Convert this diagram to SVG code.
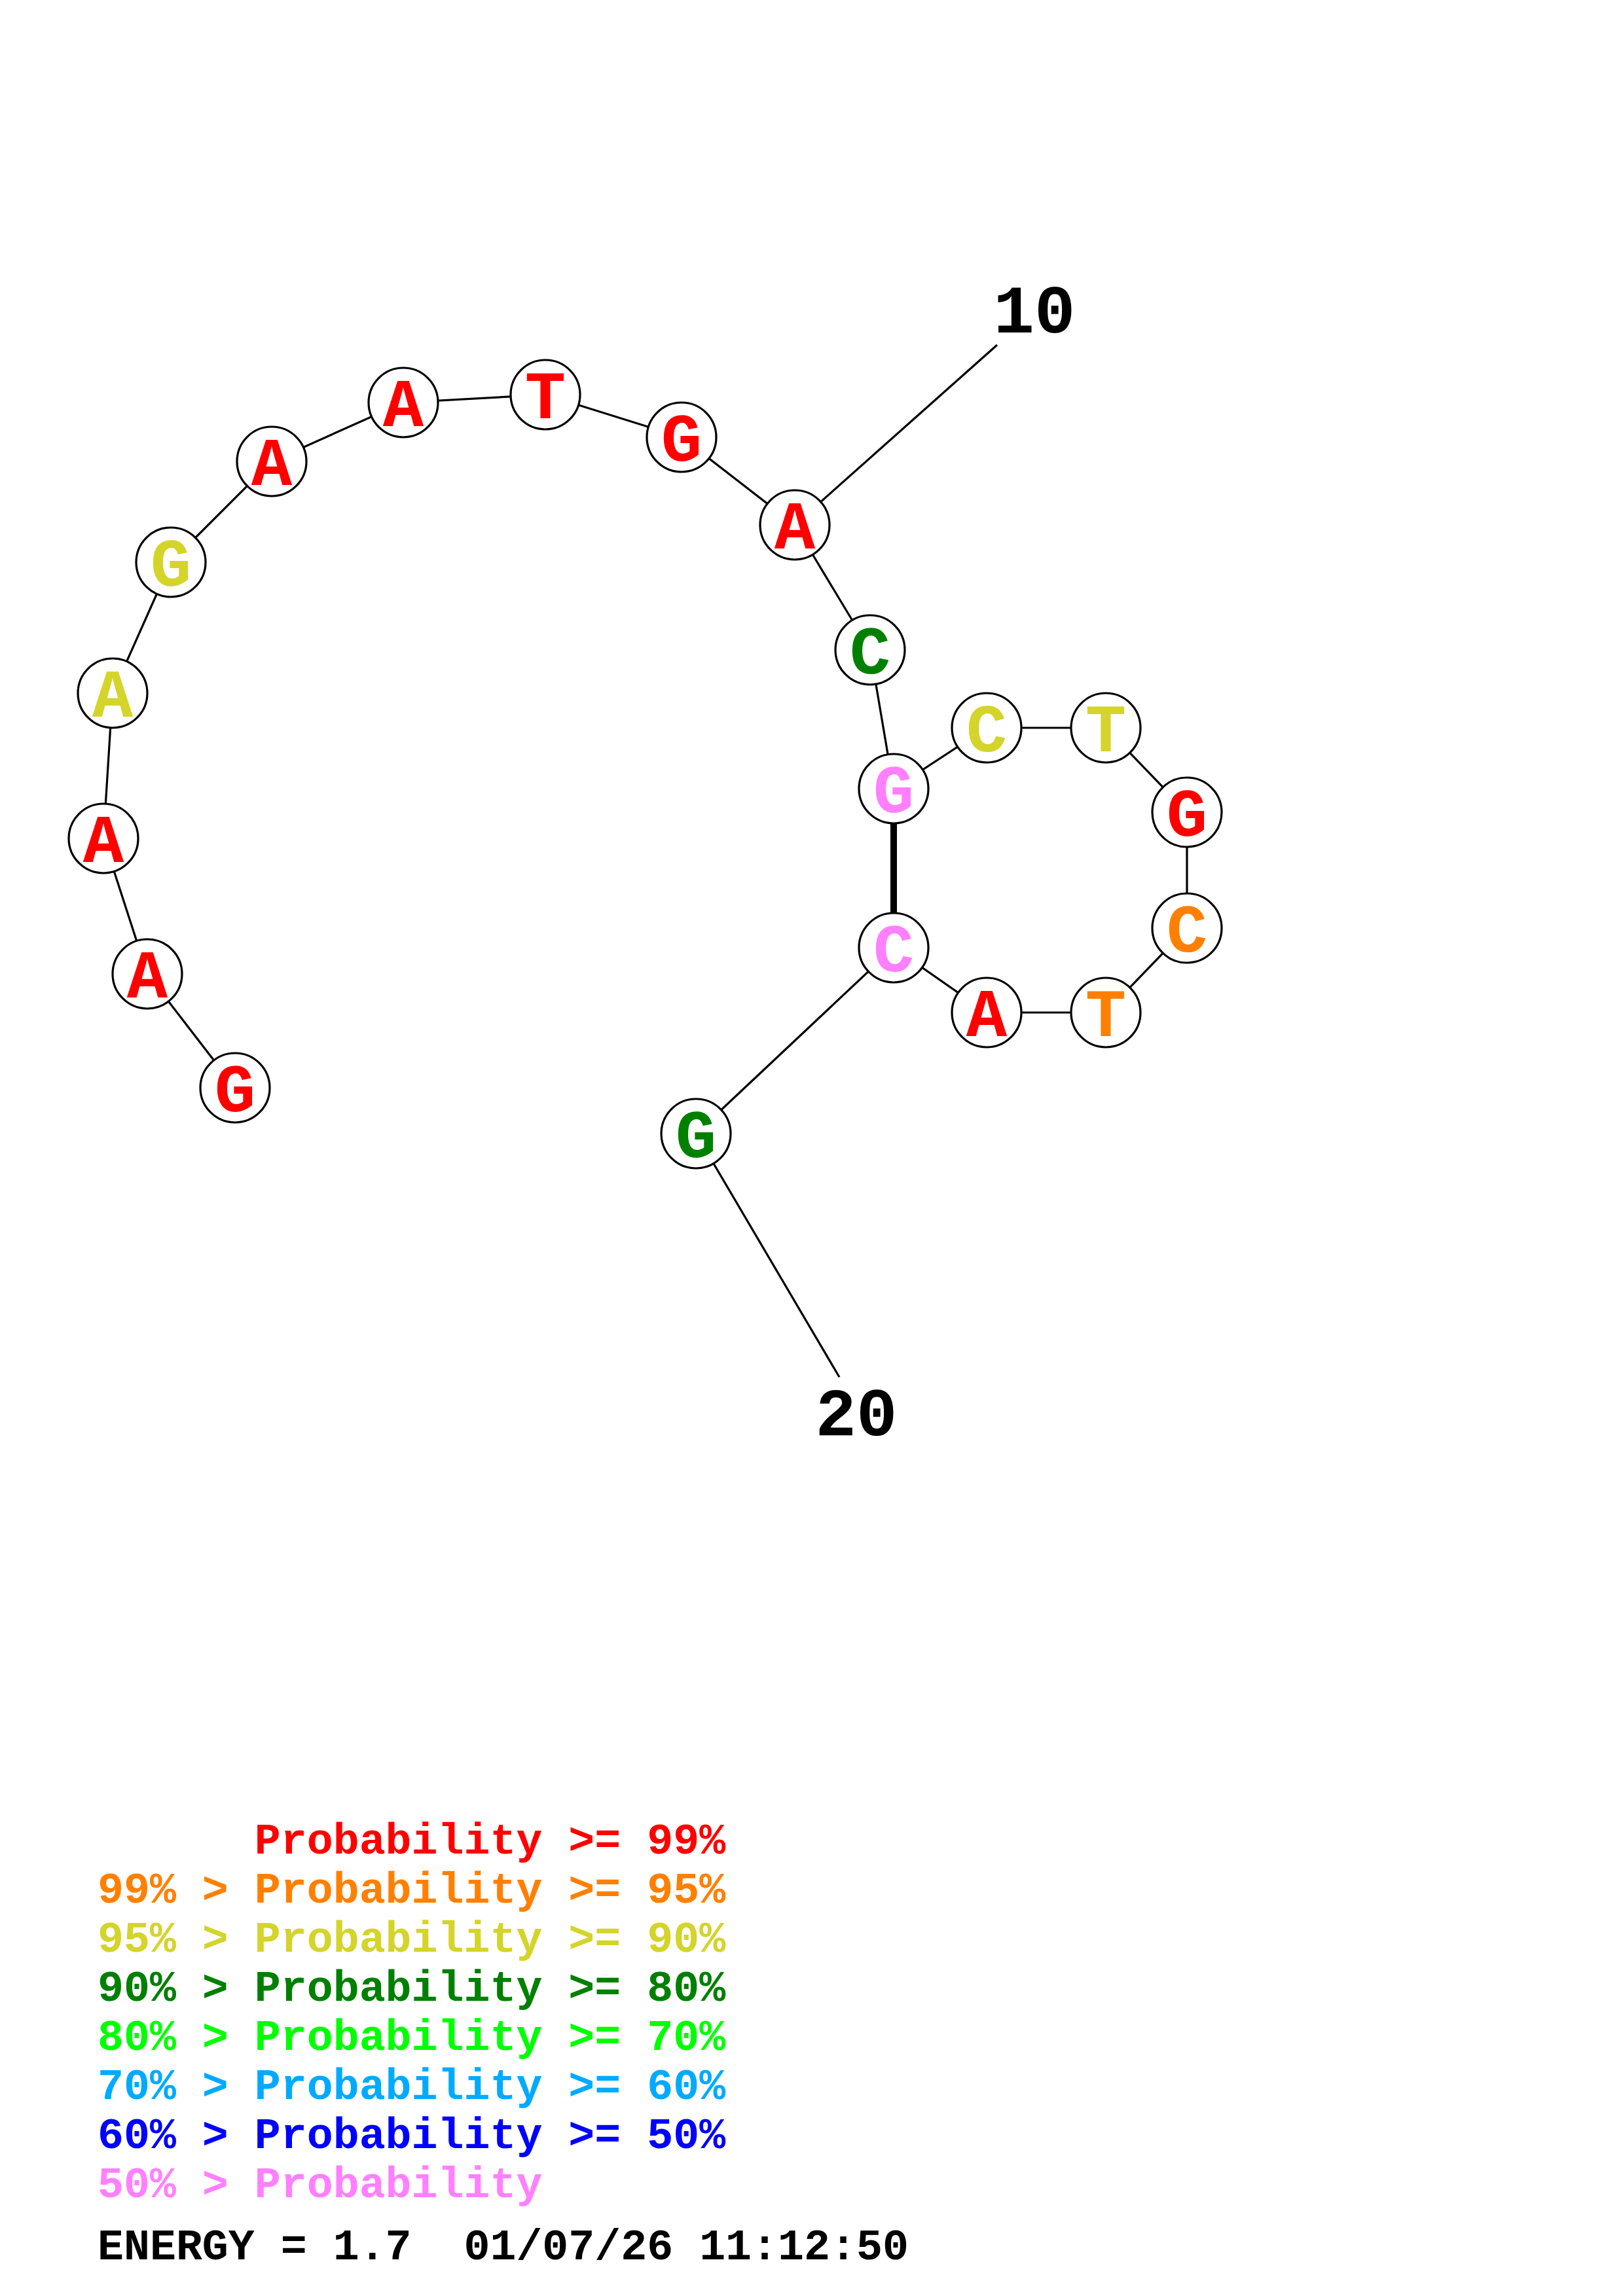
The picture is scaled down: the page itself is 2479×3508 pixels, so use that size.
<svg xmlns="http://www.w3.org/2000/svg" width="2479" height="3508" viewBox="0 0 2479 3508">
<style>
.bg{fill:#ffffff}
.nc{fill:#ffffff;stroke:#000000;stroke-width:3.2}
.nt{font-family:"Liberation Mono","Courier New",monospace;font-weight:bold;font-size:104px;text-anchor:middle}
.bb{stroke:#000000;stroke-width:3.2;fill:none}
.bp{stroke:#000000;stroke-width:10;fill:none}
.lbl{font-family:"Liberation Mono","Courier New",monospace;font-weight:bold;font-size:104px;text-anchor:middle;fill:#000000}
.lg{font-family:"Liberation Mono","Courier New",monospace;font-weight:bold;font-size:66.6px;white-space:pre}
.r{fill:#ff0000}.o{fill:#ff8000}.y{fill:#d4d42a}.dg{fill:#008000}.g{fill:#00ff00}.sb{fill:#00aaff}.b{fill:#0000ff}.p{fill:#ff80ff}.k{fill:#000000}
</style>
<rect class="bg" x="0" y="0" width="2479" height="3508"/>
<g id="connectors">
<polyline class="bb" points="359,1662 225,1488 158,1281 172,1059 261,859 415,705 616,615 833,603 1041,668 1214,802 1329,993 1365,1205 1507,1112 1689,1112 1813,1241 1813,1418 1689,1547 1507,1547 1365,1448 1063,1732"/>
<line class="bb" x1="1214" y1="802" x2="1523" y2="527"/>
<line class="bb" x1="1063" y1="1732" x2="1282" y2="2104"/>
<line class="bp" x1="1365" y1="1205" x2="1365" y2="1448"/>
</g>
<g id="n1"><circle class="nc" cx="359" cy="1662" r="53"/><text class="nt r" x="359" y="1698">G</text></g>
<g id="n2"><circle class="nc" cx="225" cy="1488" r="53"/><text class="nt r" x="225" y="1524">A</text></g>
<g id="n3"><circle class="nc" cx="158" cy="1281" r="53"/><text class="nt r" x="158" y="1317">A</text></g>
<g id="n4"><circle class="nc" cx="172" cy="1059" r="53"/><text class="nt y" x="172" y="1095">A</text></g>
<g id="n5"><circle class="nc" cx="261" cy="859" r="53"/><text class="nt y" x="261" y="895">G</text></g>
<g id="n6"><circle class="nc" cx="415" cy="705" r="53"/><text class="nt r" x="415" y="741">A</text></g>
<g id="n7"><circle class="nc" cx="616" cy="615" r="53"/><text class="nt r" x="616" y="651">A</text></g>
<g id="n8"><circle class="nc" cx="833" cy="603" r="53"/><text class="nt r" x="833" y="639">T</text></g>
<g id="n9"><circle class="nc" cx="1041" cy="668" r="53"/><text class="nt r" x="1041" y="704">G</text></g>
<g id="n10"><circle class="nc" cx="1214" cy="802" r="53"/><text class="nt r" x="1214" y="838">A</text></g>
<g id="n11"><circle class="nc" cx="1329" cy="993" r="53"/><text class="nt dg" x="1329" y="1029">C</text></g>
<g id="n12"><circle class="nc" cx="1365" cy="1205" r="53"/><text class="nt p" x="1365" y="1241">G</text></g>
<g id="n13"><circle class="nc" cx="1507" cy="1112" r="53"/><text class="nt y" x="1507" y="1148">C</text></g>
<g id="n14"><circle class="nc" cx="1689" cy="1112" r="53"/><text class="nt y" x="1689" y="1148">T</text></g>
<g id="n15"><circle class="nc" cx="1813" cy="1241" r="53"/><text class="nt r" x="1813" y="1277">G</text></g>
<g id="n16"><circle class="nc" cx="1813" cy="1418" r="53"/><text class="nt o" x="1813" y="1454">C</text></g>
<g id="n17"><circle class="nc" cx="1689" cy="1547" r="53"/><text class="nt o" x="1689" y="1583">T</text></g>
<g id="n18"><circle class="nc" cx="1507" cy="1547" r="53"/><text class="nt r" x="1507" y="1583">A</text></g>
<g id="n19"><circle class="nc" cx="1365" cy="1448" r="53"/><text class="nt p" x="1365" y="1484">C</text></g>
<g id="n20"><circle class="nc" cx="1063" cy="1732" r="53"/><text class="nt dg" x="1063" y="1768">G</text></g>
<g id="labels">
<text class="lbl" x="1580" y="508">10</text>
<text class="lbl" x="1308" y="2193">20</text>
</g>
<g id="legend">
<text class="lg r" x="149" y="2832">      Probability &gt;= 99%</text>
<text class="lg o" x="149" y="2907">99% &gt; Probability &gt;= 95%</text>
<text class="lg y" x="149" y="2982">95% &gt; Probability &gt;= 90%</text>
<text class="lg dg" x="149" y="3057">90% &gt; Probability &gt;= 80%</text>
<text class="lg g" x="149" y="3132">80% &gt; Probability &gt;= 70%</text>
<text class="lg sb" x="149" y="3207">70% &gt; Probability &gt;= 60%</text>
<text class="lg b" x="149" y="3282">60% &gt; Probability &gt;= 50%</text>
<text class="lg p" x="149" y="3357">50% &gt; Probability</text>
<text class="lg k" x="149" y="3452">ENERGY = 1.7  01/07/26 11:12:50</text>
</g>
</svg>
